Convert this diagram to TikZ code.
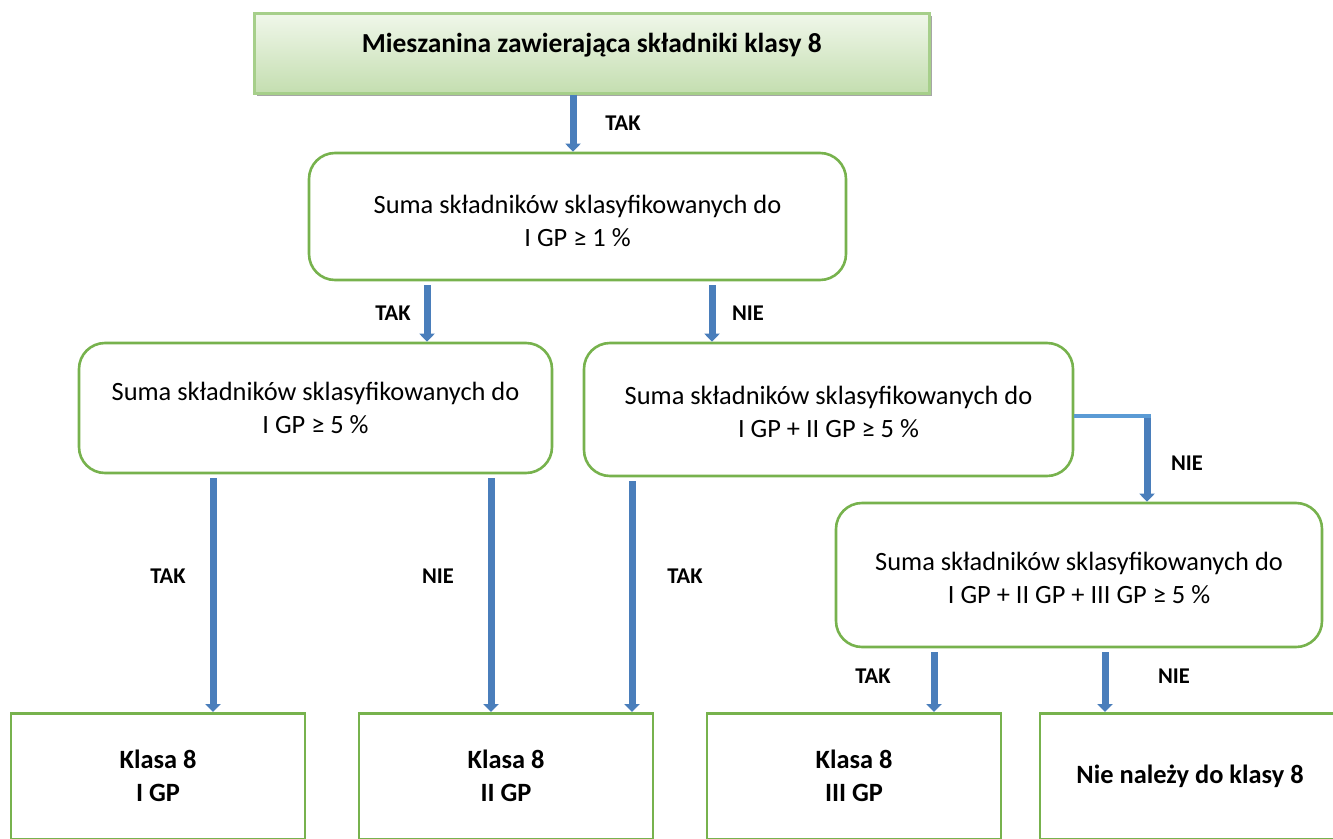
\documentclass[tikz,border=0pt]{standalone}
\usepackage{fontspec}
\setmainfont{Carlito}
\usetikzlibrary{arrows.meta,positioning}
\definecolor{boxgreen}{HTML}{77B24D}
\definecolor{topborder}{HTML}{A6CF8A}
\definecolor{topfillA}{HTML}{F0F7EA}
\definecolor{topfillB}{HTML}{C4DEB0}
\definecolor{arrblue}{HTML}{4A7EBB}
\definecolor{elbowblue}{HTML}{5B9BD5}
\tikzset{
  qbox/.style={draw=boxgreen, line width=2.6pt, rounded corners=26pt, fill=white,
    align=center, inner sep=0pt, font=\fontsize{26.4}{33}\selectfont},
  rbox/.style={draw=boxgreen, line width=2.6pt, fill=white,
    align=center, inner sep=0pt, minimum width=294pt, minimum height=126pt,
    font=\bfseries\fontsize{26.4}{33}\selectfont},
  lbl/.style={font=\bfseries\fontsize{22.5}{24}\selectfont, inner sep=0pt},
  arr/.style={draw=arrblue, line width=7pt, -{Triangle[width=15pt,length=8pt]}, shorten <=4pt},
}
\begin{document}
\begin{tikzpicture}[x=1pt,y=-1pt]
\useasboundingbox (0,0) rectangle (1333,838);
\clip (0,0) rectangle (1333,838);
% top box
\fill[gray!70] (257,16) rectangle (932,96);
\node[draw=topborder, line width=2.5pt, top color=topfillA, bottom color=topfillB,
  minimum width=675pt, minimum height=80pt, inner sep=0pt, anchor=north west,
  font=\bfseries\fontsize{27.5}{30}\selectfont] (T) at (253,12) {\raisebox{20pt}{Mieszanina zawierająca składniki klasy 8}};
% question boxes
\node[qbox, minimum width=537pt, minimum height=127pt] (A) at (577.5,216.5) {\rule{0pt}{28pt}Suma składników sklasyfikowanych do\\I GP ≥ 1 \%};
\node[qbox, minimum width=473pt, minimum height=130pt] (B) at (315.5,408) {Suma składników sklasyfikowanych do\\I GP ≥ 5 \%};
\node[qbox, minimum width=489pt, minimum height=133pt] (C) at (828.5,409.5) {\rule{0pt}{24pt}Suma składników sklasyfikowanych do\\I GP + II GP ≥ 5 \%};
\node[qbox, minimum width=486pt, minimum height=144pt] (D) at (1079,575) {\rule{0pt}{25pt}Suma składników sklasyfikowanych do\\I GP + II GP + III GP ≥ 5 \%};
% result boxes
\node[rbox, anchor=north] (E1) at (158,712) {Klasa 8\\I GP};
\node[rbox, anchor=north] (E2) at (506,712) {Klasa 8\\II GP};
\node[rbox, anchor=north] (E3) at (854,712) {Klasa 8\\III GP};
\node[rbox, anchor=north, minimum width=300pt] (E4) at (1190,712) {Nie należy do klasy 8};
% x positions of connectors
\coordinate (x0) at (573,0);
\coordinate (x1) at (427,0);
\coordinate (x2) at (712,0);
\coordinate (x3) at (213,0);
\coordinate (x4) at (491,0);
\coordinate (x5) at (632,0);
\coordinate (x6) at (1147,0);
\coordinate (x7) at (934,0);
\coordinate (x8) at (1105,0);
\coordinate (yc) at (0,416);
\coordinate (K) at (x6 |- yc);
% connectors
\draw[arr, shorten <=0pt] (T.south -| x0) -- (A.north -| x0);
\draw[arr] (A.south -| x1) -- (B.north -| x1);
\draw[arr] (A.south -| x2) -- (C.north -| x2);
\draw[arr] (B.south -| x3) -- (E1.north -| x3);
\draw[arr] (B.south -| x4) -- (E2.north -| x4);
\draw[arr] (C.south -| x5) -- (E3.north -| x5);
\draw[elbowblue, line width=4pt] (C.east |- yc) -- ([xshift=3.5pt]K);
\draw[arr, shorten <=2pt] (K) -- (D.north -| x6);
\draw[arr] (D.south -| x7) -- (E3.north -| x7);
\draw[arr] (D.south -| x8) -- (E4.north -| x8);
% labels
\node[lbl] (l0) at (623,123) {TAK};
\node[lbl] (l1) at (393,313) {TAK};
\node[lbl] (l2) at (748,313) {NIE};
\node[lbl] (l3) at (168,576) {TAK};
\node[lbl] (l4) at (438,576) {NIE};
\node[lbl] (l5) at (685,576) {TAK};
\node[lbl] (l6) at (1187,463) {NIE};
\node[lbl] (l7) at (873,676) {TAK};
\node[lbl] (l8) at (1174,676) {NIE};
\end{tikzpicture}
\end{document}
